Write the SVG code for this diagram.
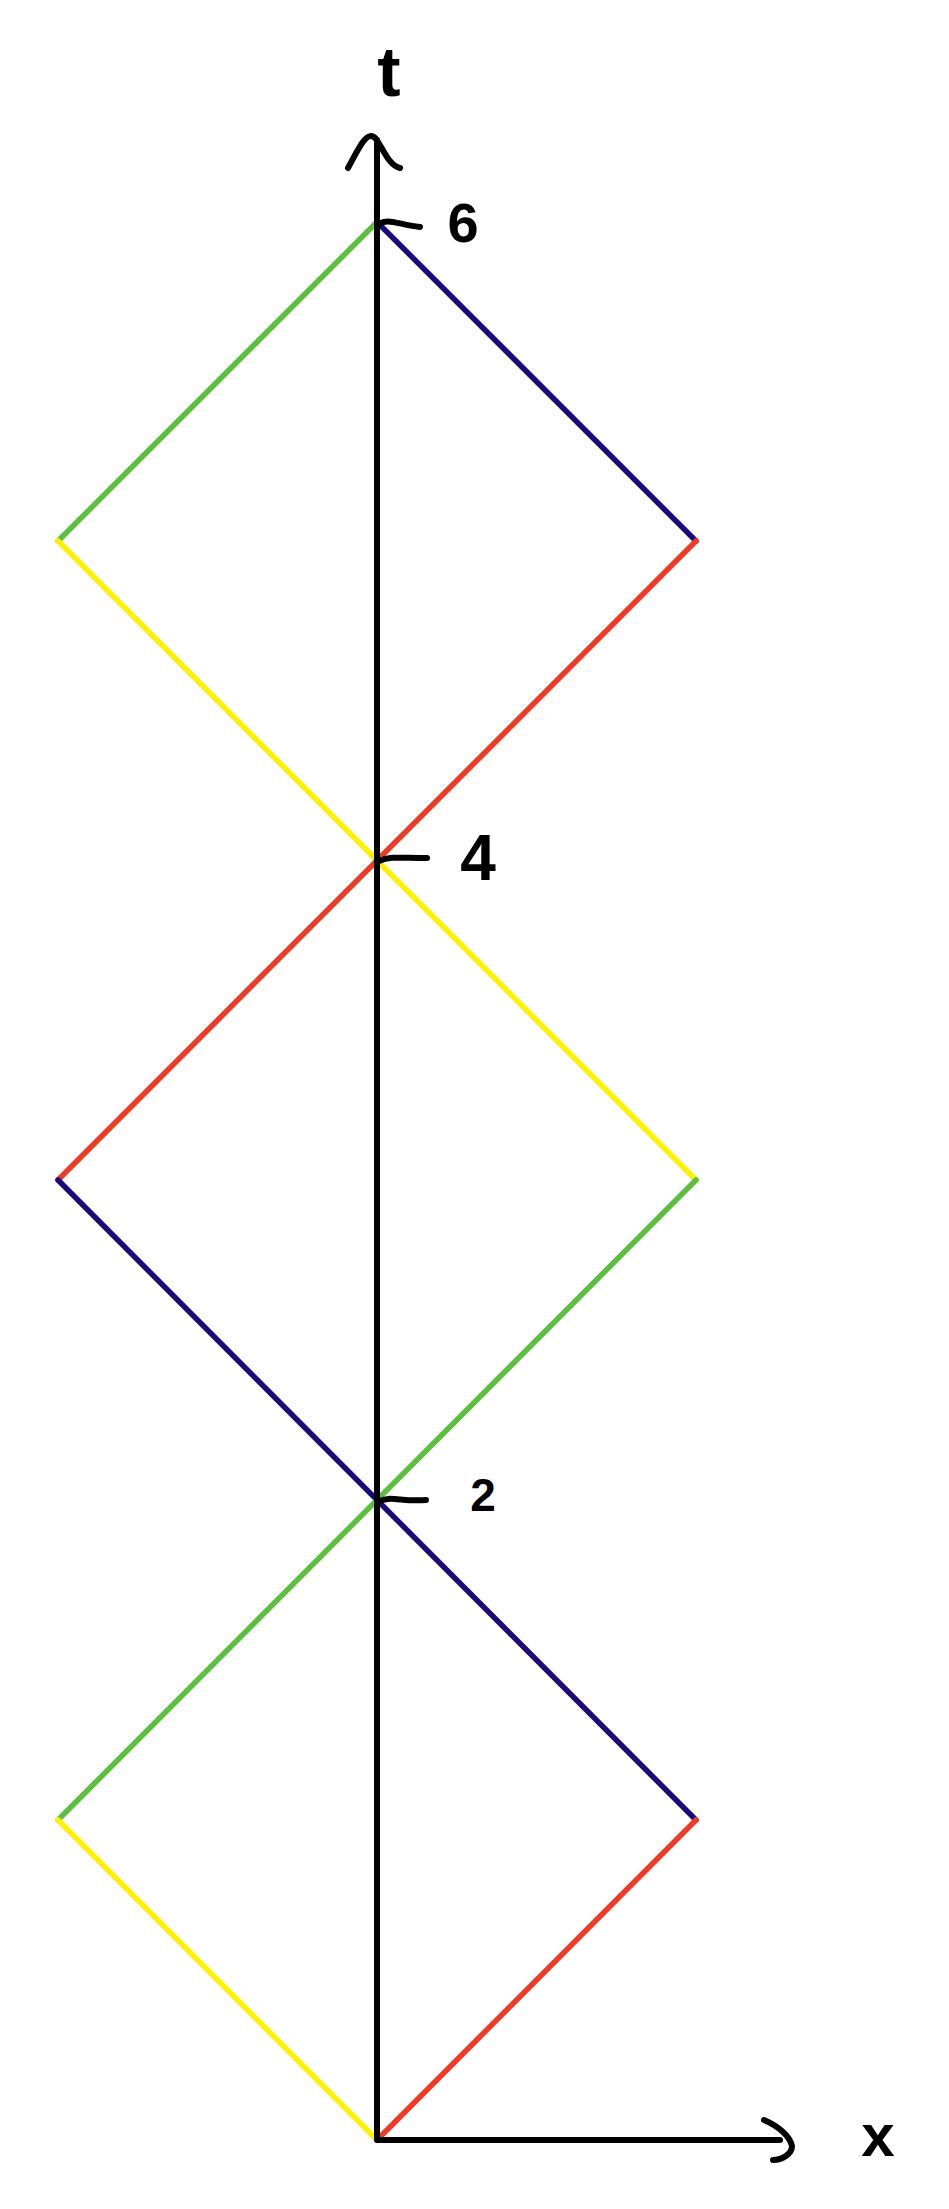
<svg xmlns="http://www.w3.org/2000/svg" width="949" height="2209" viewBox="0 0 949 2209">
<style>
.ln{fill:none;stroke-width:5.5;stroke-linecap:round}
.g{stroke:#5cbf3e}.b{stroke:#1a0a7e}.r{stroke:#ef3b26}.y{stroke:#fff200}
.ax{fill:none;stroke:#000;stroke-width:6;stroke-linecap:round;stroke-linejoin:round}
.lb{font-family:"Liberation Sans","DejaVu Sans",sans-serif;font-weight:bold;fill:#000}
</style>
<rect width="949" height="2209" fill="#fff"/>
<g id="rays">
<path class="ln g" d="M377 222L58 541"/>
<path class="ln b" d="M377 222L696 541"/>
<path class="ln y" d="M58 541L696 1180"/>
<path class="ln r" d="M696 541L58 1180"/>
<path class="ln b" d="M58 1180L696 1820"/>
<path class="ln g" d="M696 1180L58 1820"/>
<path class="ln y" d="M58 1820L377 2140"/>
<path class="ln r" d="M696 1820L377 2140"/>
</g>
<g id="axes">
<path class="ax" d="M377 140V2140H780"/>
<path class="ax" d="M348 168C358 150 367 128 376 139C383 148 388 165 400 168"/>
<path class="ax" d="M764 2120C778 2126 790 2136 792 2146C792 2154 782 2160 773 2160"/>
<path class="ax" d="M379 224C388 218 396 224 420 227"/>
<path class="ax" d="M379 861C390 856 400 858 427 858"/>
<path class="ax" d="M378 1502C390 1495 400 1502 426 1500"/>
</g>
<g id="labels">
<text class="lb" x="389" y="96" font-size="70" text-anchor="middle">t</text>
<text class="lb" x="463" y="242" font-size="56" text-anchor="middle">6</text>
<text class="lb" x="478" y="880" font-size="64" text-anchor="middle">4</text>
<text class="lb" x="483" y="1511" font-size="46" text-anchor="middle">2</text>
<text class="lb" x="878" y="2156" font-size="60" text-anchor="middle">x</text>
</g>
</svg>
